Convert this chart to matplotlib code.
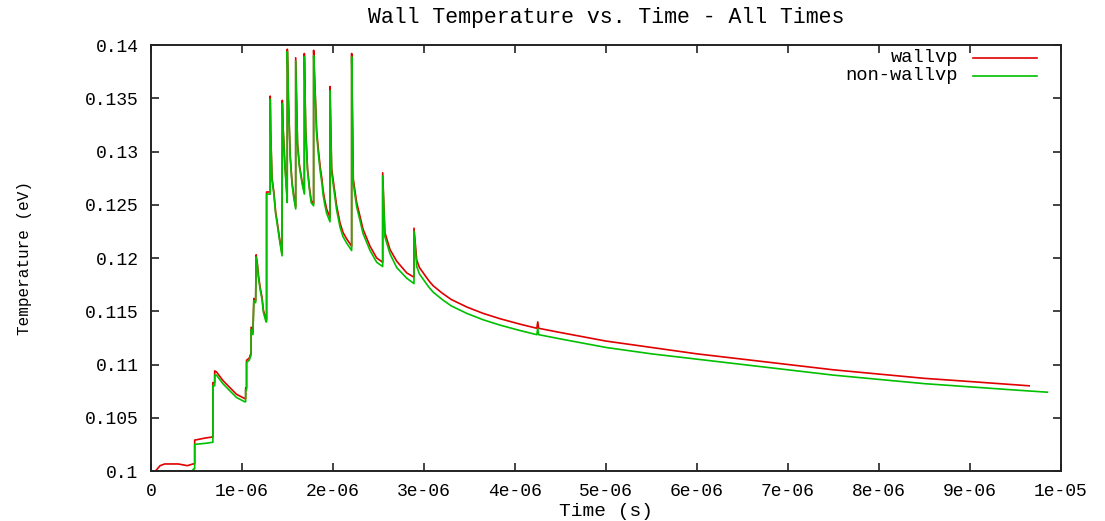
import matplotlib
matplotlib.use("Agg")
import matplotlib.pyplot as plt
from matplotlib.lines import Line2D
from matplotlib.ticker import FixedLocator, FixedFormatter

# ---- data (time in microseconds, temperature in eV) ----
wallvp_t = [0.00, 0.05, 0.10, 0.15, 0.30, 0.40, 0.46, 0.48, 0.48, 0.60, 0.68, 0.68, 0.70, 0.70,
            0.72, 0.79, 0.87, 0.94, 1.03, 1.04, 1.04, 1.05, 1.05, 1.08, 1.10, 1.10, 1.12, 1.13,
            1.15, 1.155, 1.17, 1.18, 1.20, 1.22, 1.235, 1.264, 1.27, 1.27, 1.31, 1.31, 1.315,
            1.33, 1.35, 1.37, 1.39, 1.41, 1.44, 1.443, 1.45, 1.47, 1.49, 1.497, 1.498, 1.51,
            1.53, 1.55, 1.57, 1.59, 1.59, 1.61, 1.63, 1.66, 1.685, 1.685, 1.70, 1.72, 1.74,
            1.76, 1.787, 1.787, 1.80, 1.82, 1.84, 1.86, 1.88, 1.89, 1.91, 1.93, 1.967, 1.967,
            1.985, 2.04, 2.077, 2.11, 2.15, 2.205, 2.205, 2.223, 2.26, 2.297, 2.33, 2.407, 2.48,
            2.546, 2.546, 2.57, 2.626, 2.70, 2.81, 2.89, 2.89, 2.92, 2.95, 3.00, 3.05, 3.10,
            3.20, 3.30, 3.47, 3.65, 3.835, 4.05, 4.24, 4.25, 4.26, 4.50, 4.75, 5.00, 5.50,
            6.00, 6.50, 7.00, 7.50, 8.00, 8.50, 9.00, 9.65]
wallvp_T = [0.1000, 0.1000, 0.1005, 0.10066, 0.10066, 0.10050, 0.10066, 0.10066, 0.1029, 0.1031,
            0.1032, 0.1083, 0.1083, 0.1094, 0.1093, 0.1085, 0.1078, 0.1072, 0.1068, 0.1068,
            0.1078, 0.1078, 0.1104, 0.1106, 0.1111, 0.1135, 0.1130, 0.1162, 0.1160, 0.1203,
            0.1194, 0.1184, 0.1172, 0.1163, 0.1151, 0.1142, 0.1142, 0.1262, 0.1262, 0.1352,
            0.1320, 0.1275, 0.1262, 0.1243, 0.1232, 0.1220, 0.1204, 0.1348, 0.1326, 0.1290,
            0.1264, 0.1254, 0.1396, 0.1350, 0.1296, 0.1271, 0.1258, 0.1248, 0.1388, 0.1308,
            0.1288, 0.1272, 0.1262, 0.1392, 0.1321, 0.1284, 0.1267, 0.1254, 0.1251, 0.1395,
            0.1366, 0.1320, 0.1301, 0.1285, 0.1273, 0.1264, 0.1254, 0.1246, 0.1238, 0.1361,
            0.1284, 0.1249, 0.1233, 0.1224, 0.1218, 0.1211, 0.1392, 0.1274, 0.1252, 0.1239,
            0.1227, 0.1211, 0.1200, 0.1196, 0.1280, 0.1224, 0.1208, 0.1197, 0.1186, 0.1182,
            0.1228, 0.1198, 0.1191, 0.1185, 0.1179, 0.1174, 0.1167, 0.1161, 0.1154, 0.1148,
            0.1143, 0.1138, 0.1134, 0.1140, 0.1134, 0.1130, 0.1126, 0.1122, 0.1116, 0.1110,
            0.1105, 0.1100, 0.1095, 0.1091, 0.1087, 0.1084, 0.1080]

nonwallvp_t = [0.00, 0.45, 0.47, 0.48, 0.48, 0.60, 0.68, 0.68, 0.70, 0.70, 0.72, 0.79, 0.87, 0.94,
               1.03, 1.04, 1.04, 1.05, 1.05, 1.08, 1.10, 1.10, 1.12, 1.13, 1.15, 1.155, 1.17,
               1.18, 1.20, 1.22, 1.235, 1.264, 1.27, 1.27, 1.31, 1.31, 1.315, 1.33, 1.35, 1.37,
               1.39, 1.41, 1.44, 1.443, 1.45, 1.47, 1.49, 1.497, 1.498, 1.51, 1.53, 1.55, 1.57,
               1.59, 1.59, 1.61, 1.63, 1.66, 1.685, 1.685, 1.70, 1.72, 1.74, 1.76, 1.787, 1.787,
               1.80, 1.82, 1.84, 1.86, 1.88, 1.89, 1.91, 1.93, 1.967, 1.967, 1.985, 2.04, 2.077,
               2.11, 2.15, 2.205, 2.205, 2.223, 2.26, 2.297, 2.33, 2.407, 2.48, 2.546, 2.546,
               2.57, 2.626, 2.70, 2.81, 2.89, 2.89, 2.92, 2.95, 3.00, 3.05, 3.10, 3.20, 3.30,
               3.47, 3.65, 3.835, 4.05, 4.24, 4.25, 4.26, 4.50, 4.75, 5.00, 5.50, 6.00, 6.50,
               7.00, 7.50, 8.00, 8.50, 9.00, 9.50, 9.85]
nonwallvp_T = [0.1000, 0.1000, 0.1002, 0.1002, 0.1025, 0.1026, 0.1027, 0.1080, 0.1080, 0.1090,
               0.1090, 0.1082, 0.1075, 0.1069, 0.1065, 0.1065, 0.1076, 0.1076, 0.1102, 0.1104,
               0.1109, 0.1133, 0.1128, 0.1160, 0.1158, 0.1201, 0.1192, 0.1182, 0.1170, 0.1161,
               0.1149, 0.1140, 0.1140, 0.1260, 0.1260, 0.1349, 0.1318, 0.1273, 0.1260, 0.1241,
               0.1230, 0.1218, 0.1202, 0.1345, 0.1324, 0.1288, 0.1262, 0.1252, 0.1394, 0.1348,
               0.1294, 0.1269, 0.1256, 0.1246, 0.1385, 0.1306, 0.1286, 0.1270, 0.1260, 0.1389,
               0.1319, 0.1282, 0.1265, 0.1252, 0.1249, 0.1390, 0.1362, 0.1316, 0.1297, 0.1281,
               0.1269, 0.1260, 0.1250, 0.1242, 0.1234, 0.1357, 0.1280, 0.1245, 0.1229, 0.1220,
               0.1214, 0.1207, 0.1389, 0.1270, 0.1248, 0.1235, 0.1223, 0.1207, 0.1196, 0.1192,
               0.1277, 0.1220, 0.1204, 0.1191, 0.1181, 0.1176, 0.1225, 0.1192, 0.1185, 0.1179,
               0.1173, 0.1168, 0.1161, 0.1155, 0.1148, 0.1142, 0.1137, 0.1132, 0.1128, 0.1134,
               0.1128, 0.1124, 0.1120, 0.1116, 0.1110, 0.1105, 0.1100, 0.1095, 0.1090, 0.1086,
               0.1082, 0.1079, 0.1076, 0.1074]

x_ticks = [0, 1e-6, 2e-6, 3e-6, 4e-6, 5e-6, 6e-6, 7e-6, 8e-6, 9e-6, 1e-5]
x_tick_labels = ["0", "1e-06", "2e-06", "3e-06", "4e-06", "5e-06", "6e-06", "7e-06", "8e-06",
                 "9e-06", "1e-05"]
y_ticks = [0.1, 0.105, 0.11, 0.115, 0.12, 0.125, 0.13, 0.135, 0.14]
y_tick_labels = ["0.1", "0.105", "0.11", "0.115", "0.12", "0.125", "0.13", "0.135", "0.14"]

title = "Wall Temperature vs. Time - All Times"
x_label = "Time (s)"
y_label = "Temperature (eV)"
series_names = ["wallvp", "non-wallvp"]
series_colors = ["#e00000", "#00c000"]

# ---- plot ----
FONT = ["Liberation Mono", "DejaVu Sans Mono"]
W, H = 1105, 521
fig = plt.figure(figsize=(W / 100, H / 100), dpi=100)
ax = fig.add_axes([151 / W, 50 / H, 910 / W, 426 / H])

us = 1e-6
ax.plot([t * us for t in wallvp_t], wallvp_T, color=series_colors[0], lw=1.2)
ax.plot([t * us for t in nonwallvp_t], nonwallvp_T, color=series_colors[1], lw=1.2)

ax.set_xlim(0, 1e-5)
ax.set_ylim(0.1, 0.14)
ax.xaxis.set_major_locator(FixedLocator(x_ticks))
ax.xaxis.set_major_formatter(FixedFormatter(x_tick_labels))
ax.yaxis.set_major_locator(FixedLocator(y_ticks))
ax.yaxis.set_major_formatter(FixedFormatter(y_tick_labels))
ax.tick_params(direction="in", length=6, width=1.2, top=True, right=True, pad=9,
               labelsize=13, color="#222222")
for lab in ax.get_xticklabels() + ax.get_yticklabels():
    lab.set_family(FONT)
for s in ax.spines.values():
    s.set_linewidth(1.4)
    s.set_color("#222222")

fig.text(606 / W, 1 - 17 / H, title, ha="center", va="center", fontsize=15.5, family=FONT)
fig.text(606 / W, 1 - 511 / H, x_label, ha="center", va="center", fontsize=14, family=FONT)
fig.text(25 / W, 1 - 258 / H, y_label, ha="center", va="center", rotation=90, fontsize=11.5,
         family=FONT)

# key (gnuplot style: label right-aligned, sample line to its right)
key_y = [(471 - 58) / 426, (471 - 76) / 426]
for name, color, ky in zip(series_names, series_colors, key_y):
    ax.text((958 - 151) / 910, ky, name, transform=ax.transAxes, ha="right", va="center",
            fontsize=13.5, family=FONT)
    ax.add_line(Line2D([(973 - 151) / 910, (1037 - 151) / 910], [ky, ky],
                       transform=ax.transAxes, color=color, lw=1.2))

fig.savefig("out.png", dpi=100)
